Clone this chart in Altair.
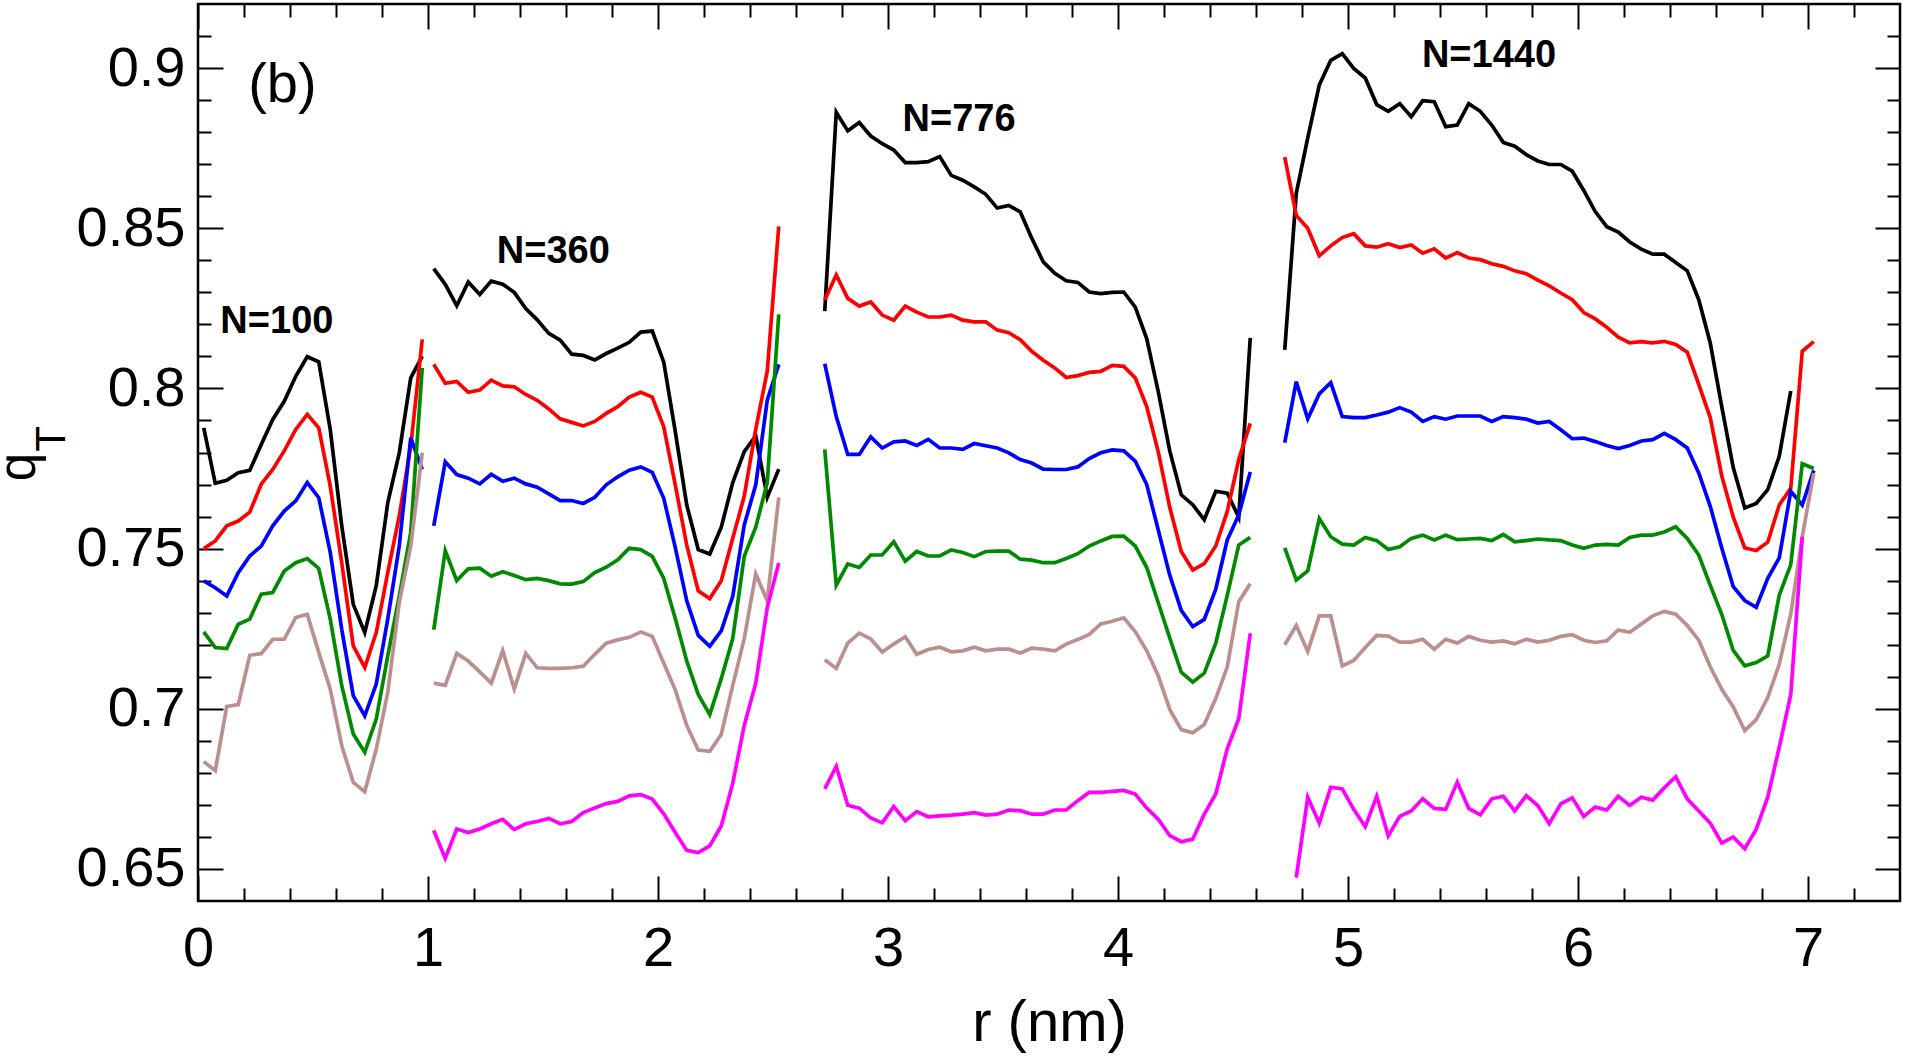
import altair as alt
import pandas as pd

# ---------------- data ----------------
r_n100 = [0.025, 0.075, 0.125, 0.175, 0.225, 0.275, 0.325, 0.375, 0.425, 0.475,
          0.525, 0.575, 0.625, 0.675, 0.725, 0.775, 0.825, 0.875, 0.925, 0.975]
r_n360 = [1.025, 1.075, 1.125, 1.175, 1.225, 1.275, 1.325, 1.375, 1.425, 1.475,
          1.525, 1.575, 1.625, 1.675, 1.725, 1.775, 1.825, 1.875, 1.925, 1.975,
          2.025, 2.075, 2.125, 2.175, 2.225, 2.275, 2.325, 2.375, 2.425, 2.475, 2.525]
r_n776 = [2.725, 2.775, 2.825, 2.875, 2.925, 2.975, 3.025, 3.075, 3.125, 3.175,
          3.225, 3.275, 3.325, 3.375, 3.425, 3.475, 3.525, 3.575, 3.625, 3.675,
          3.725, 3.775, 3.825, 3.875, 3.925, 3.975, 4.025, 4.075, 4.125, 4.175,
          4.225, 4.275, 4.325, 4.375, 4.425, 4.475, 4.525, 4.575]
r_n1440 = [4.725, 4.775, 4.825, 4.875, 4.925, 4.975, 5.025, 5.075, 5.125, 5.175,
           5.225, 5.275, 5.325, 5.375, 5.425, 5.475, 5.525, 5.575, 5.625, 5.675,
           5.725, 5.775, 5.825, 5.875, 5.925, 5.975, 6.025, 6.075, 6.125, 6.175,
           6.225, 6.275, 6.325, 6.375, 6.425, 6.475, 6.525, 6.575, 6.625, 6.675,
           6.725, 6.775, 6.825, 6.875, 6.925, 6.975, 7.025]

# N = 100
n100_black = [0.7877, 0.7704, 0.7713, 0.7737, 0.7744, 0.7825, 0.7903, 0.7960, 0.8038, 0.8099,
              0.8083, 0.7872, 0.7571, 0.7326, 0.7238, 0.7384, 0.7643, 0.7799, 0.8033, 0.8101]
n100_red = [0.7500, 0.7524, 0.7571, 0.7586, 0.7614, 0.7701, 0.7747, 0.7805, 0.7872, 0.7919,
            0.7877, 0.7695, 0.7456, 0.7196, 0.7129, 0.7238, 0.7425, 0.7602, 0.7820, 0.8153]
n100_blue = [0.7399, 0.7378, 0.7352, 0.7425, 0.7477, 0.7508, 0.7571, 0.7617, 0.7649, 0.7706,
             0.7659, 0.7488, 0.7248, 0.7041, 0.6978, 0.7077, 0.7280, 0.7508, 0.7846, 0.7747]
n100_green = [0.7240, 0.7191, 0.7188, 0.7264, 0.7280, 0.7358, 0.7363, 0.7430, 0.7456, 0.7469,
              0.7438, 0.7280, 0.7072, 0.6921, 0.6864, 0.6968, 0.7165, 0.7352, 0.7550, 0.8064]
n100_brown = [0.6835, 0.6807, 0.7007, 0.7013, 0.7167, 0.7172, 0.7217, 0.7217, 0.7285, 0.7295,
              0.7176, 0.7061, 0.6885, 0.6770, 0.6741, 0.6874, 0.7051, 0.7332, 0.7508, 0.7799]

# N = 360
n360_black = [0.8374, 0.8325, 0.8258, 0.8332, 0.8293, 0.8335, 0.8325, 0.8300, 0.8249, 0.8214,
              0.8172, 0.8151, 0.8107, 0.8103, 0.8089, 0.8109, 0.8126, 0.8144, 0.8176, 0.8179,
              0.8082, 0.7866, 0.7636, 0.7497, 0.7483, 0.7567, 0.7706, 0.7803, 0.7852, 0.7660,
              0.7748]
n360_red = [0.8075, 0.8016, 0.8022, 0.7988, 0.7995, 0.8026, 0.8008, 0.8005, 0.7981, 0.7963,
            0.7936, 0.7905, 0.7894, 0.7883, 0.7897, 0.7922, 0.7943, 0.7973, 0.7988, 0.7973,
            0.7880, 0.7699, 0.7511, 0.7368, 0.7344, 0.7400, 0.7532, 0.7664, 0.7873, 0.8054,
            0.8506]
n360_blue = [0.7571, 0.7771, 0.7731, 0.7720, 0.7702, 0.7732, 0.7710, 0.7720, 0.7702, 0.7692,
             0.7671, 0.7650, 0.7650, 0.7641, 0.7660, 0.7699, 0.7724, 0.7745, 0.7755, 0.7738,
             0.7657, 0.7504, 0.7337, 0.7229, 0.7195, 0.7243, 0.7351, 0.7574, 0.7699, 0.7963,
             0.8075]
n360_green = [0.7247, 0.7493, 0.7400, 0.7437, 0.7439, 0.7414, 0.7428, 0.7416, 0.7403, 0.7407,
              0.7400, 0.7390, 0.7389, 0.7397, 0.7425, 0.7442, 0.7465, 0.7501, 0.7497, 0.7476,
              0.7407, 0.7282, 0.7149, 0.7045, 0.6982, 0.7094, 0.7219, 0.7476, 0.7567, 0.7706,
              0.8231]
n360_brown = [0.7080, 0.7073, 0.7173, 0.7149, 0.7115, 0.7080, 0.7181, 0.7062, 0.7173, 0.7128,
              0.7126, 0.7126, 0.7128, 0.7133, 0.7170, 0.7205, 0.7215, 0.7223, 0.7240, 0.7226,
              0.7142, 0.7059, 0.6948, 0.6871, 0.6867, 0.6920, 0.7073, 0.7219, 0.7421, 0.7337,
              0.7660]
n360_magenta = [0.6620, 0.6533, 0.6625, 0.6614, 0.6625, 0.6641, 0.6655, 0.6623, 0.6641, 0.6648,
                0.6658, 0.6641, 0.6648, 0.6676, 0.6690, 0.6704, 0.6711, 0.6728, 0.6732, 0.6718,
                0.6672, 0.6614, 0.6558, 0.6551, 0.6572, 0.6634, 0.6767, 0.6948, 0.7080, 0.7316,
                0.7455]

# N = 776
n776_black = [0.8241, 0.8862, 0.8804, 0.8830, 0.8788, 0.8764, 0.8744, 0.8705, 0.8705, 0.8708,
              0.8724, 0.8665, 0.8650, 0.8629, 0.8606, 0.8563, 0.8571, 0.8551, 0.8469, 0.8395,
              0.8359, 0.8336, 0.8331, 0.8301, 0.8296, 0.8300, 0.8301, 0.8254, 0.8155, 0.7990,
              0.7805, 0.7668, 0.7637, 0.7590, 0.7679, 0.7673, 0.7598, 0.8158]
n776_red = [0.8276, 0.8354, 0.8281, 0.8257, 0.8270, 0.8229, 0.8213, 0.8257, 0.8238, 0.8223,
            0.8223, 0.8229, 0.8213, 0.8208, 0.8208, 0.8182, 0.8174, 0.8152, 0.8116, 0.8088,
            0.8064, 0.8034, 0.8040, 0.8050, 0.8053, 0.8072, 0.8069, 0.8033, 0.7943, 0.7802,
            0.7629, 0.7491, 0.7433, 0.7453, 0.7508, 0.7616, 0.7778, 0.7891]
n776_blue = [0.8077, 0.7912, 0.7794, 0.7794, 0.7849, 0.7814, 0.7833, 0.7836, 0.7822, 0.7841,
             0.7814, 0.7814, 0.7810, 0.7828, 0.7821, 0.7814, 0.7799, 0.7778, 0.7767, 0.7748,
             0.7747, 0.7747, 0.7755, 0.7781, 0.7799, 0.7808, 0.7805, 0.7773, 0.7700, 0.7558,
             0.7417, 0.7307, 0.7257, 0.7279, 0.7373, 0.7527, 0.7605, 0.7739]
n776_green = [0.7810, 0.7386, 0.7452, 0.7441, 0.7480, 0.7480, 0.7522, 0.7461, 0.7491, 0.7477,
              0.7477, 0.7496, 0.7488, 0.7475, 0.7491, 0.7492, 0.7492, 0.7467, 0.7464, 0.7456,
              0.7456, 0.7469, 0.7484, 0.7508, 0.7524, 0.7538, 0.7539, 0.7508, 0.7441, 0.7331,
              0.7221, 0.7114, 0.7083, 0.7111, 0.7205, 0.7354, 0.7511, 0.7535]
n776_brown = [0.7153, 0.7126, 0.7205, 0.7236, 0.7218, 0.7177, 0.7202, 0.7225, 0.7170, 0.7185,
              0.7192, 0.7178, 0.7181, 0.7192, 0.7181, 0.7186, 0.7186, 0.7174, 0.7189, 0.7186,
              0.7181, 0.7202, 0.7216, 0.7232, 0.7265, 0.7273, 0.7284, 0.7241, 0.7181, 0.7103,
              0.6998, 0.6935, 0.6925, 0.6951, 0.7032, 0.7130, 0.7334, 0.7390]
n776_magenta = [0.6750, 0.6820, 0.6699, 0.6690, 0.6659, 0.6644, 0.6695, 0.6651, 0.6679, 0.6663,
                0.6666, 0.6668, 0.6671, 0.6676, 0.6668, 0.6671, 0.6684, 0.6682, 0.6671, 0.6671,
                0.6684, 0.6684, 0.6713, 0.6739, 0.6739, 0.6742, 0.6745, 0.6734, 0.6690, 0.6655,
                0.6604, 0.6585, 0.6593, 0.6671, 0.6734, 0.6875, 0.6969, 0.7236]

# N = 1440
n1440_black = [0.8120, 0.8609, 0.8782, 0.8947, 0.9024, 0.9045, 0.8999, 0.8969, 0.8886, 0.8865,
               0.8889, 0.8848, 0.8898, 0.8895, 0.8817, 0.8822, 0.8889, 0.8865, 0.8822, 0.8768,
               0.8756, 0.8730, 0.8710, 0.8699, 0.8699, 0.8678, 0.8618, 0.8552, 0.8505, 0.8488,
               0.8457, 0.8435, 0.8419, 0.8419, 0.8393, 0.8367, 0.8277, 0.8142, 0.7943, 0.7753,
               0.7627, 0.7641, 0.7684, 0.7788, 0.7992]
n1440_red = [0.8722, 0.8540, 0.8500, 0.8414, 0.8445, 0.8471, 0.8483, 0.8445, 0.8441, 0.8452,
             0.8440, 0.8448, 0.8422, 0.8436, 0.8407, 0.8424, 0.8407, 0.8402, 0.8389, 0.8381,
             0.8367, 0.8358, 0.8338, 0.8320, 0.8298, 0.8277, 0.8237, 0.8217, 0.8191, 0.8160,
             0.8142, 0.8146, 0.8142, 0.8147, 0.8137, 0.8113, 0.8013, 0.7909, 0.7727, 0.7598,
             0.7502, 0.7494, 0.7520, 0.7636, 0.7688, 0.8116, 0.8146]
n1440_blue = [0.7831, 0.8021, 0.7905, 0.7983, 0.8018, 0.7912, 0.7909, 0.7909, 0.7917, 0.7926,
              0.7940, 0.7926, 0.7897, 0.7912, 0.7904, 0.7914, 0.7914, 0.7914, 0.7897, 0.7912,
              0.7909, 0.7904, 0.7892, 0.7897, 0.7871, 0.7843, 0.7845, 0.7834, 0.7822, 0.7812,
              0.7822, 0.7836, 0.7840, 0.7860, 0.7840, 0.7814, 0.7736, 0.7632, 0.7502, 0.7381,
              0.7338, 0.7317, 0.7407, 0.7471, 0.7679, 0.7636, 0.7744]
n1440_green = [0.7502, 0.7402, 0.7430, 0.7594, 0.7537, 0.7514, 0.7511, 0.7535, 0.7525, 0.7497,
               0.7506, 0.7532, 0.7542, 0.7527, 0.7542, 0.7528, 0.7530, 0.7532, 0.7525, 0.7544,
               0.7521, 0.7525, 0.7530, 0.7527, 0.7525, 0.7511, 0.7501, 0.7511, 0.7513, 0.7511,
               0.7535, 0.7542, 0.7542, 0.7552, 0.7568, 0.7532, 0.7480, 0.7385, 0.7295, 0.7182,
               0.7134, 0.7144, 0.7165, 0.7355, 0.7450, 0.7765, 0.7750]
n1440_brown = [0.7200, 0.7260, 0.7179, 0.7290, 0.7290, 0.7134, 0.7151, 0.7191, 0.7229, 0.7227,
               0.7208, 0.7208, 0.7217, 0.7186, 0.7217, 0.7205, 0.7226, 0.7214, 0.7208, 0.7212,
               0.7203, 0.7217, 0.7208, 0.7214, 0.7226, 0.7231, 0.7214, 0.7207, 0.7212, 0.7246,
               0.7239, 0.7265, 0.7290, 0.7304, 0.7295, 0.7260, 0.7214, 0.7131, 0.7061, 0.7006,
               0.6932, 0.6966, 0.7035, 0.7139, 0.7295, 0.7537, 0.7736]
n1440_magenta = [0.6473, 0.6724, 0.6643, 0.6755, 0.6750, 0.6686, 0.6632, 0.6727, 0.6603,
                 0.6664, 0.6681, 0.6719, 0.6689, 0.6686, 0.6771, 0.6689, 0.6669, 0.6719, 0.6727,
                 0.6681, 0.6729, 0.6698, 0.6641, 0.6703, 0.6722, 0.6664, 0.6693, 0.6684, 0.6727,
                 0.6698, 0.6724, 0.6715, 0.6753, 0.6788, 0.6719, 0.6681, 0.6643, 0.6581, 0.6600,
                 0.6563, 0.6624, 0.6724, 0.6880, 0.7044, 0.7537]

label_text = ["N=100", "N=360", "N=776", "N=1440"]
label_r = [0.343, 1.545, 3.309, 5.613]
label_q = [0.8208, 0.8426, 0.8839, 0.9037]

panel_text = ["(b)"]
panel_r = [0.367]
panel_q = [0.8948]

x_major = [0, 1, 2, 3, 4, 5, 6, 7]
y_major = [0.65, 0.7, 0.75, 0.8, 0.85, 0.9]

BLACK, RED, BLUE, GREEN, BROWN, MAGENTA = "#000000", "#ff0000", "#0000ff", "#008a00", "#bc8f8f", "#ff00ff"

series = [
    ("N100", BLACK, r_n100, n100_black), ("N100", RED, r_n100, n100_red),
    ("N100", BLUE, r_n100, n100_blue), ("N100", GREEN, r_n100, n100_green),
    ("N100", BROWN, r_n100, n100_brown),
    ("N360", BLACK, r_n360, n360_black), ("N360", RED, r_n360, n360_red),
    ("N360", BLUE, r_n360, n360_blue), ("N360", GREEN, r_n360, n360_green),
    ("N360", BROWN, r_n360, n360_brown), ("N360", MAGENTA, r_n360, n360_magenta),
    ("N776", BLACK, r_n776, n776_black), ("N776", RED, r_n776, n776_red),
    ("N776", BLUE, r_n776, n776_blue), ("N776", GREEN, r_n776, n776_green),
    ("N776", BROWN, r_n776, n776_brown), ("N776", MAGENTA, r_n776, n776_magenta),
    ("N1440", BLACK, r_n1440[:len(n1440_black)], n1440_black),
    ("N1440", RED, r_n1440, n1440_red),
    ("N1440", BLUE, r_n1440, n1440_blue), ("N1440", GREEN, r_n1440, n1440_green),
    ("N1440", BROWN, r_n1440, n1440_brown),
    ("N1440", MAGENTA, r_n1440[1:1 + len(n1440_magenta)], n1440_magenta),
]

rows = []
for k, (grp, col, rs, qs) in enumerate(series):
    for r, q in zip(rs, qs):
        rows.append({"r": r, "q": q, "color": col, "series": f"{k:02d}-{grp}"})
df = pd.DataFrame(rows)

labels_df = pd.DataFrame({"r": label_r, "q": label_q, "text": label_text})
panel_df = pd.DataFrame({"r": panel_r, "q": panel_q, "text": panel_text})

# ---------------- layout ----------------
W, H = 1702, 897
XDOM = [0, 7.4]
YDOM = [0.64, 0.92]
FONT = "Liberation Sans"


def sx():
    return alt.Scale(domain=XDOM, nice=False, zero=False)


def sy():
    return alt.Scale(domain=YDOM, nice=False, zero=False)


x_minor = [round(0.2 * k, 1) for k in range(1, 37) if k % 5 != 0]
y_minor = [round(0.64 + 0.01 * k, 2) for k in range(1, 28) if k % 5 != 1]

lines = alt.Chart(df).mark_line(strokeWidth=3.7).encode(
    x=alt.X("r:Q", scale=sx(), axis=alt.Axis(
        orient="bottom", values=x_major, format="d", ticks=False, domain=False, grid=False,
        labelFlush=False, labelOverlap=False,
        labelFontSize=56, labelPadding=20, labelFont=FONT, labelColor="black",
        title="r (nm)", titleFontSize=58, titleFont=FONT, titleFontWeight="normal",
        titleColor="black", titlePadding=18)),
    y=alt.Y("q:Q", scale=sy(), axis=alt.Axis(
        orient="left", values=y_major, format=".2~f", ticks=False, domain=False, grid=False,
        labelFlush=False, labelOverlap=False,
        labelFontSize=56, labelPadding=13, labelFont=FONT, labelColor="black", title="")),
    color=alt.Color("color:N", scale=None),
    detail="series:N",
)


def tick_layer(xorient, xoff, xvals, xsize, yorient, yoff, yvals, ysize):
    return alt.Chart(df).mark_point(opacity=0).encode(
        x=alt.X("r:Q", scale=sx(), axis=alt.Axis(
            orient=xorient, offset=xoff, values=xvals, tickSize=xsize, tickWidth=2,
            tickColor="black", labels=False, domain=False, grid=False, title="")),
        y=alt.Y("q:Q", scale=sy(), axis=alt.Axis(
            orient=yorient, offset=yoff, values=yvals, tickSize=ysize, tickWidth=2,
            tickColor="black", labels=False, domain=False, grid=False, title="")),
    )


# ticks pointing inward on all four sides
t_major_a = tick_layer("top", -H, x_major, 25, "right", -W, y_major, 25)   # bottom & left
t_minor_a = tick_layer("top", -H, x_minor, 13, "right", -W, y_minor, 13)
t_major_b = tick_layer("bottom", -H, x_major, 25, "left", -W, y_major, 25)  # top & right
t_minor_b = tick_layer("bottom", -H, x_minor, 13, "left", -W, y_minor, 13)

n_labels = alt.Chart(labels_df).mark_text(
    font=FONT, fontSize=38, fontWeight="bold", color="black", align="center", baseline="middle"
).encode(
    x=alt.X("r:Q", scale=sx(), axis=None),
    y=alt.Y("q:Q", scale=sy(), axis=None),
    text="text:N",
)

panel = alt.Chart(panel_df).mark_text(
    font=FONT, fontSize=56, color="black", align="center", baseline="middle"
).encode(
    x=alt.X("r:Q", scale=sx(), axis=None),
    y=alt.Y("q:Q", scale=sy(), axis=None),
    text="text:N",
)

ytitle_q = alt.Chart(pd.DataFrame({"t": ["q"]})).mark_text(
    font=FONT, fontSize=51, color="black", align="center", baseline="alphabetic", angle=270
).encode(x=alt.value(-163), y=alt.value(463), text="t:N")

ytitle_T = alt.Chart(pd.DataFrame({"t": ["T"]})).mark_text(
    font=FONT, fontSize=42, color="black", align="center", baseline="alphabetic", angle=270
).encode(x=alt.value(-133), y=alt.value(435), text="t:N")

chart = alt.layer(
    t_major_a, t_minor_a, t_major_b, t_minor_b, lines, n_labels, panel, ytitle_q, ytitle_T
).resolve_scale(
    x="independent", y="independent"
).resolve_axis(
    x="independent", y="independent"
).properties(
    width=W, height=H,
    autosize=alt.AutoSizeParams(type="none"),
    padding={"left": 198, "top": 4, "right": 5, "bottom": 158},
    background="white",
).configure_view(
    stroke="black", strokeWidth=2.5
)

chart.save("out.html", embed_options={"renderer": "svg", "actions": False})
